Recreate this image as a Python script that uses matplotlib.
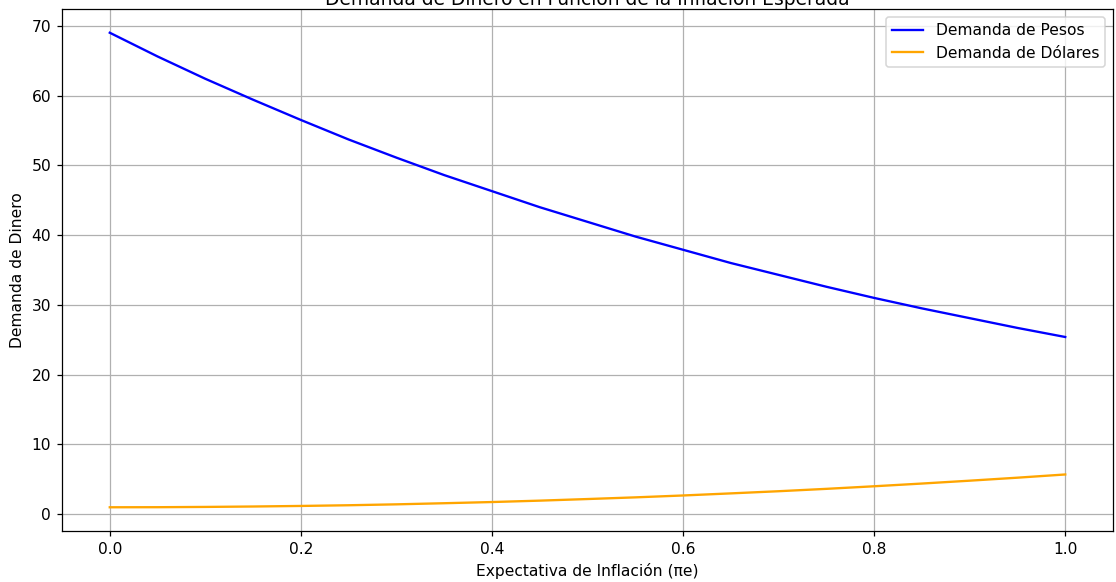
import matplotlib
matplotlib.use("Agg")
import matplotlib.pyplot as plt

# expectativa de inflacion (pi e)
pi_e = [0.0, 0.05, 0.1, 0.15, 0.2, 0.25, 0.3, 0.35, 0.4, 0.45, 0.5,
        0.55, 0.6, 0.65, 0.7, 0.75, 0.8, 0.85, 0.9, 0.95, 1.0]

# demanda de pesos
pesos = [69.0, 65.6, 62.4, 59.4, 56.5, 53.7, 51.1, 48.6, 46.3, 44.0, 41.9,
         39.8, 37.9, 36.0, 34.3, 32.6, 31.0, 29.5, 28.1, 26.7, 25.4]

# demanda de dolares
dolares = [1.0, 1.01, 1.05, 1.11, 1.19, 1.29, 1.42, 1.58, 1.75, 1.95, 2.18,
           2.42, 2.69, 2.99, 3.30, 3.64, 4.01, 4.40, 4.81, 5.24, 5.70]

DPI = 111.6
fig = plt.figure(figsize=(1116 / DPI, 582 / DPI), dpi=DPI)
ax = fig.add_axes([62/1116, 1 - 531/582, (1113-62)/1116, (531-9)/582])

ax.plot(pi_e, pesos, color="blue", label="Demanda de Pesos")
ax.plot(pi_e, dolares, color="orange", label="Demanda de Dólares")

ax.set_title("Demanda de Dinero en Función de la Inflación Esperada", pad=2)
ax.set_xlabel("Expectativa de Inflación (πe)")
ax.set_ylabel("Demanda de Dinero")
ax.legend(loc="upper right")
ax.grid(True)

fig.savefig("out.png", dpi=DPI)
